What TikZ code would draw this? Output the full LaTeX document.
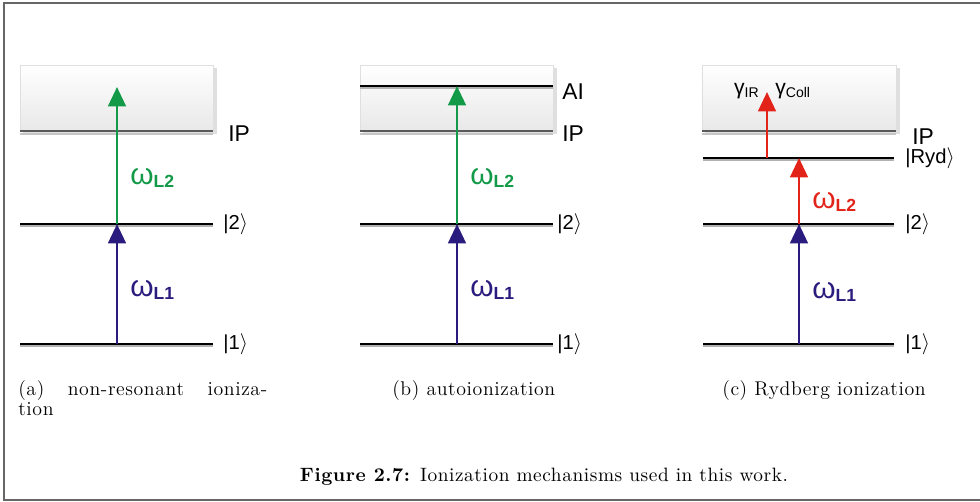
\documentclass[tikz,border=0pt]{standalone}
\usepackage{fontspec}
\usepackage{tikz}
\usetikzlibrary{arrows.meta, positioning, calc}
\newfontfamily\lblfont{Liberation Sans}
\newfontfamily\capfont[LetterSpace=3]{Latin Modern Roman}
\definecolor{arrGreen}{HTML}{139A48}
\definecolor{arrBlue}{HTML}{2A1B7E}
\definecolor{arrRed}{HTML}{E2231A}
\definecolor{ipGray}{HTML}{5A5A5A}

% energy level: black line with a grey shadow below
\newcommand{\enlevel}[3]{%
  \draw[levelshadow] (#1,#3+2.3) -- (#2,#3+2.3);
  \draw[levelline] (#1,#3) -- (#2,#3);}
% continuum box above the ionization potential
\newcommand{\contbox}[3]{%
  \fill[gray!25] (#1+3,68) rectangle (#2+4,#3+3);
  \shade[top color=white, bottom color=gray!18, draw=gray!25] (#1,65) rectangle (#2,#3);
  \draw[gray!45, line width=1.2pt] (#1,#3+3.2) -- (#2,#3+3.2);
  \draw[ipGray, line width=1.4pt] (#1,#3) -- (#2,#3);}
\newcommand{\omg}[1]{{\fontsize{17}{17}\selectfont ω}\raisebox{-2pt}{\fontsize{10}{10}\selectfont\bfseries #1}}
\newcommand{\gmm}[1]{{\fontsize{12}{12}\selectfont γ}\raisebox{-2pt}{\fontsize{8}{8}\selectfont #1}}

\begin{document}
\begin{tikzpicture}[
    x=0.02cm, y=-0.02cm,
    levelline/.style={draw=black, line width=1.3pt},
    levelshadow/.style={draw=gray!60, line width=1.1pt},
    photon/.style={line width=1.6pt, -{Triangle[length=11pt, width=10pt]}},
    ket/.style={font=\lblfont\fontsize{11.5}{11.5}\selectfont, anchor=west, inner sep=0pt},
    ion/.style={font=\lblfont\fontsize{13}{13}\selectfont, anchor=west, inner sep=0pt},
    freq/.style={font=\lblfont, anchor=west, inner sep=0pt},
    subcap/.style={font=\capfont\fontsize{11.3}{11.4}\selectfont, anchor=base west, inner sep=0pt, align=left},
]
    \useasboundingbox (0,0) rectangle (980,502);
    % frame
    \draw[gray!80!black, line width=0.8pt] (980,3) -- (4,3) -- (4,500) -- (980,500);

    % (a) non-resonant ionization
    \contbox{20}{213}{131}
    \enlevel{20}{213}{224}
    \enlevel{20}{213}{344}
    \coordinate (a1) at (117,344);
    \coordinate (a2) at (117,224);
    \coordinate (aC) at (117,87);
    \draw[photon, arrBlue] (a1) -- (a2);
    \draw[photon, arrGreen] (a2) -- (aC);
    \node[ion] (ipA) at (228,134) {IP};
    \node[ket] (ka2) at (223,224) {|2$\rangle$};
    \node[ket] (ka1) at (223,344) {|1$\rangle$};
    \node[freq, text=arrGreen] (wa2) at (130,178) {\omg{L2}};
    \node[freq, text=arrBlue] (wa1) at (130,290) {\omg{L1}};

    % (b) autoionization
    \contbox{360}{553}{131}
    \enlevel{360}{553}{86}
    \enlevel{360}{553}{224}
    \enlevel{360}{553}{344}
    \coordinate (b1) at (457,344);
    \coordinate (b2) at (457,224);
    \coordinate (bAI) at (457,86);
    \draw[photon, arrBlue] (b1) -- (b2);
    \draw[photon, arrGreen] (b2) -- (bAI);
    \node[ion] (aiB) at (562,92) {AI};
    \node[ion] (ipB) at (562,134) {IP};
    \node[ket] (kb2) at (557,224) {|2$\rangle$};
    \node[ket] (kb1) at (557,344) {|1$\rangle$};
    \node[freq, text=arrGreen] (wb2) at (470,178) {\omg{L2}};
    \node[freq, text=arrBlue] (wb1) at (470,290) {\omg{L1}};

    % (c) Rydberg ionization
    \contbox{702}{896}{131}
    \enlevel{703}{894}{158}
    \enlevel{703}{894}{224}
    \enlevel{703}{894}{344}
    \coordinate (c1) at (799,344);
    \coordinate (c2) at (799,224);
    \coordinate (cR) at (799,158);
    \coordinate (cRs) at (767,158);
    \coordinate (cC) at (767,92);
    \draw[photon, arrBlue] (c1) -- (c2);
    \draw[photon, arrRed] (c2) -- (cR);
    \draw[photon, arrRed] (cRs) -- (cC);
    \node[ion] (ipC) at (912,137) {IP};
    \node[ket] (kcR) at (905,158) {|Ryd$\rangle$};
    \node[ket] (kc2) at (905,224) {|2$\rangle$};
    \node[ket] (kc1) at (905,344) {|1$\rangle$};
    \node[freq, text=arrRed] (wc2) at (812,202) {\omg{L2}};
    \node[freq, text=arrBlue] (wc1) at (812,292) {\omg{L1}};
    \node[freq, anchor=east] (gIR) at (759,91) {\gmm{IR}};
    \node[freq] (gColl) at (775,91) {\gmm{Coll}};

    % sub-captions and caption
    \node[subcap] (capA) at (18,416) {\makebox[4.98cm][s]{(a)\hfill non-resonant\hfill ioniza-}\\tion};
    \node[subcap] (capB) at (392,396) {(b) autoionization};
    \node[subcap] (capC) at (722,396) {(c) Rydberg ionization};
    \node[font=\capfont\fontsize{11}{12}\selectfont, inner sep=0pt] (fig) at (544,477) {\textbf{Figure 2.7:} Ionization mechanisms used in this work.};
\end{tikzpicture}
\end{document}
